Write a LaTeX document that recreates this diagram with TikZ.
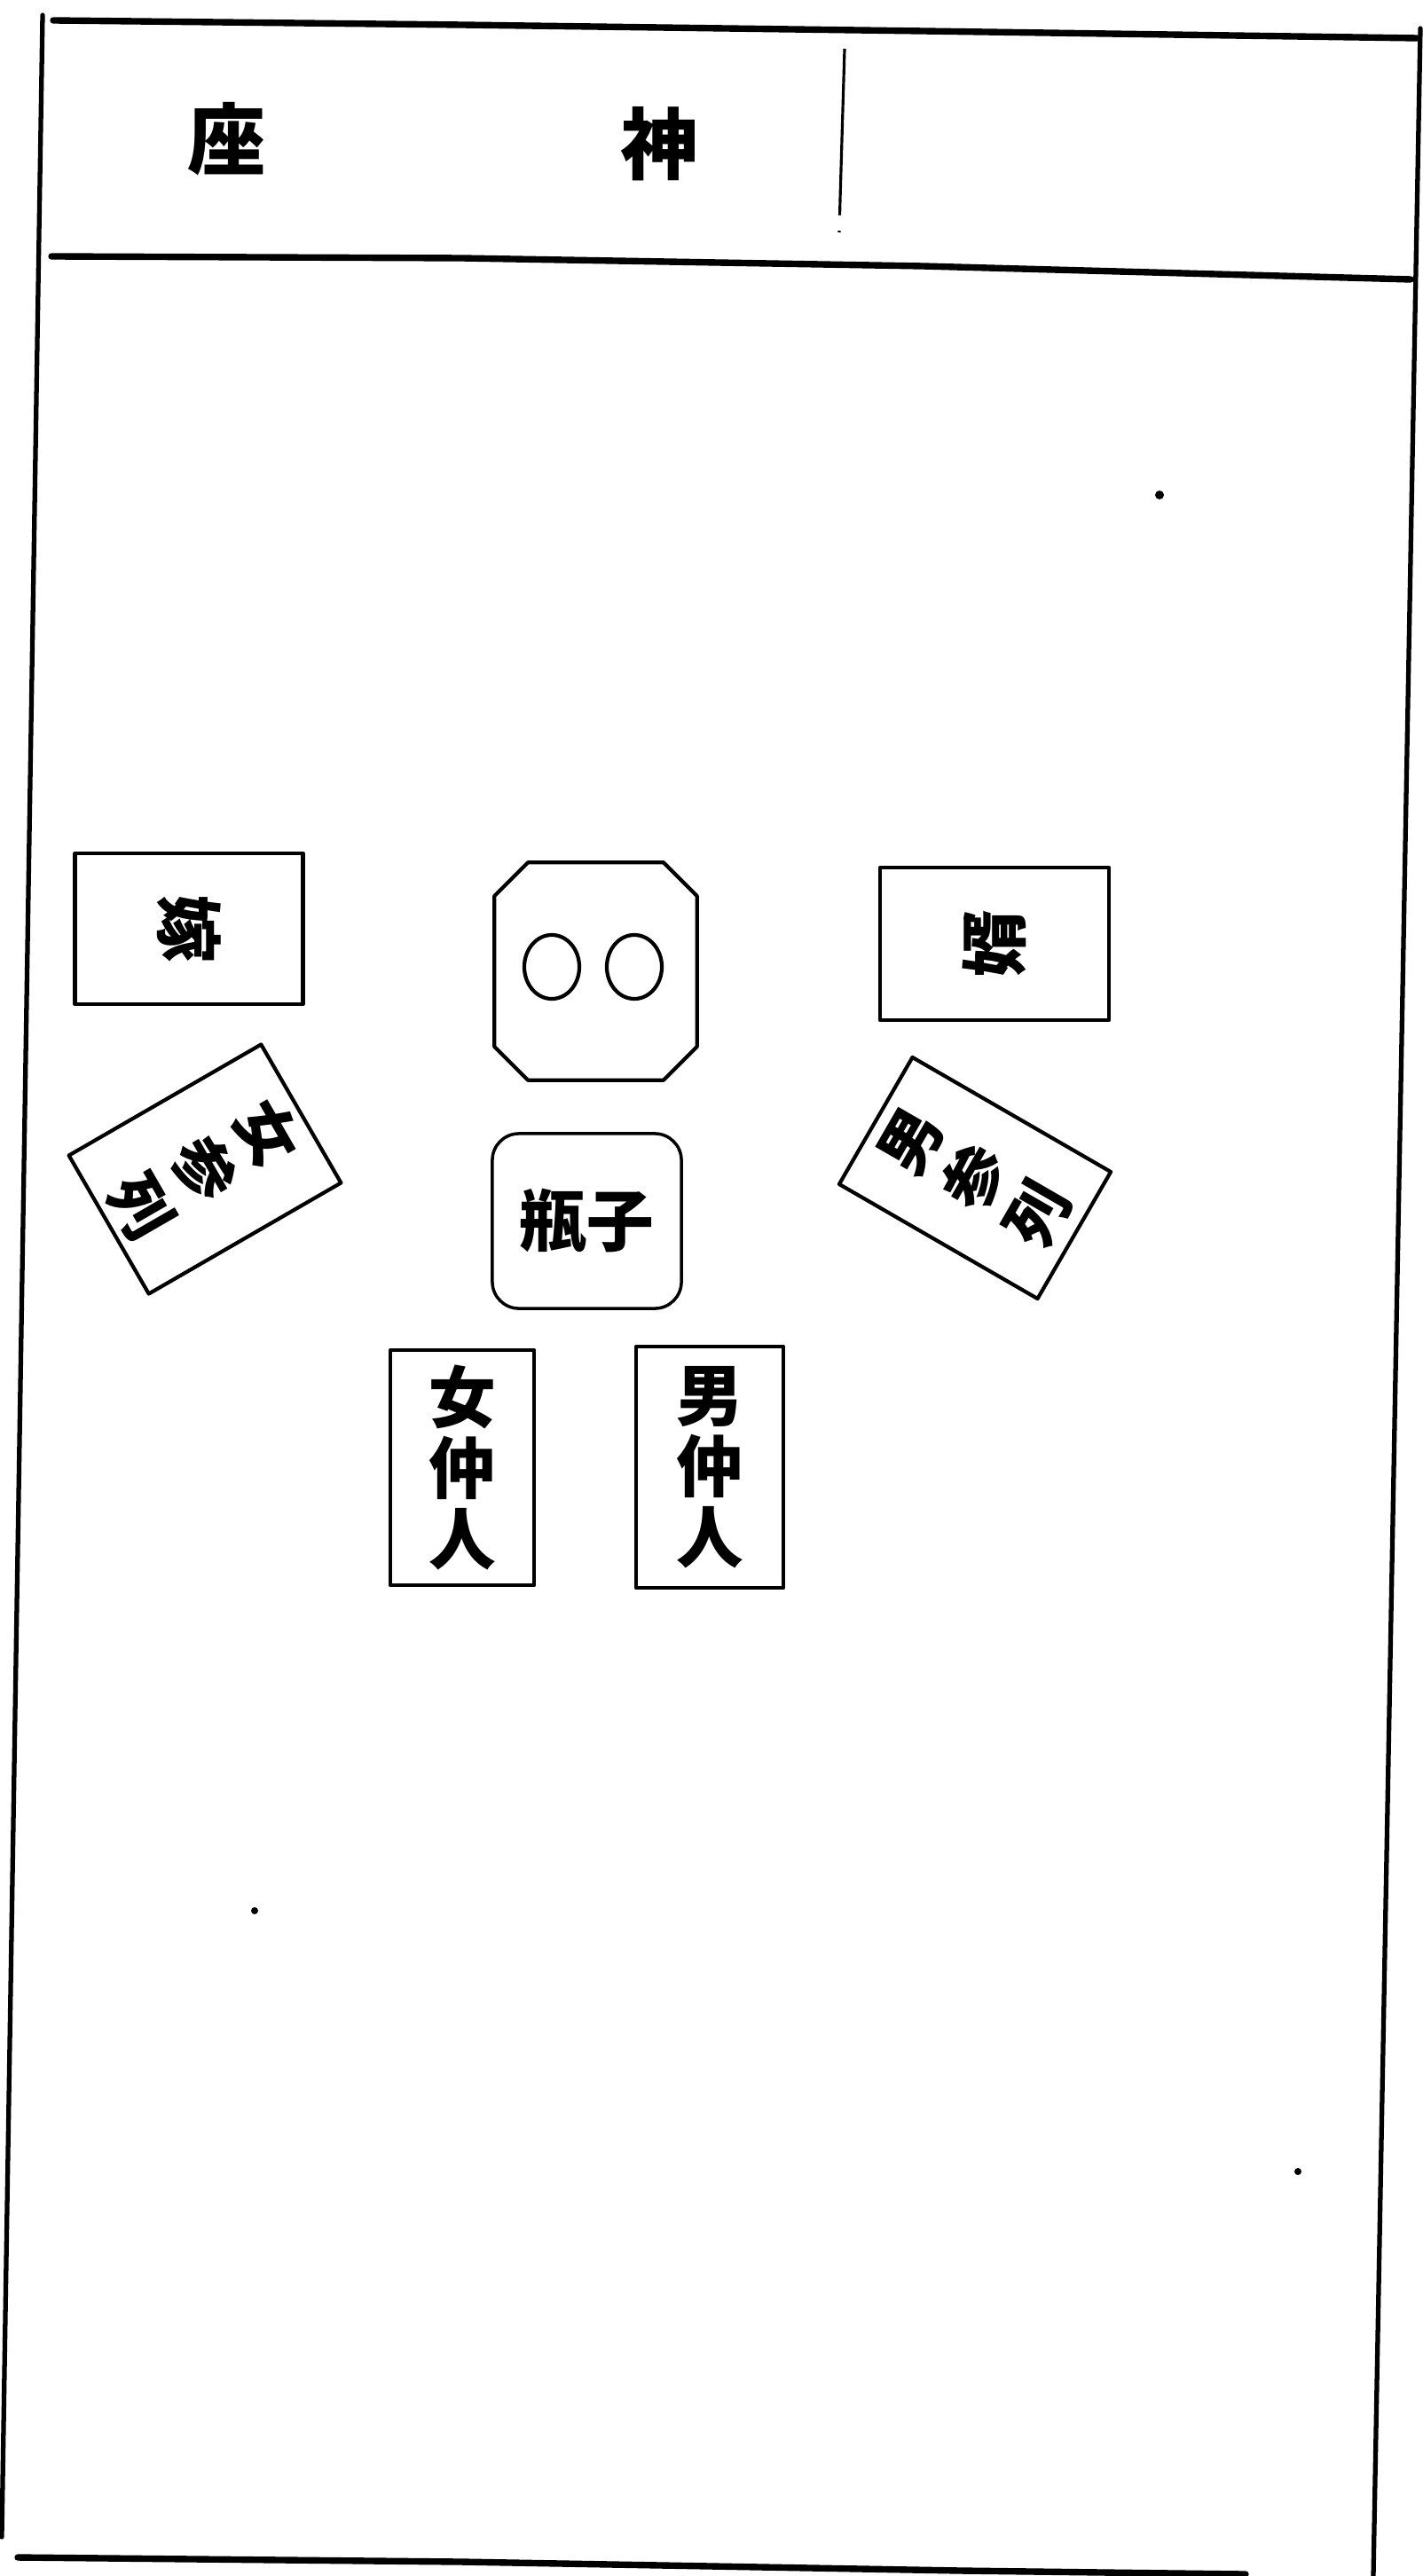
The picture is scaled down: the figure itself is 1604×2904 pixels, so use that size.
\documentclass[tikz,border=0pt]{standalone}
\usepackage{fontspec}
\newfontfamily\cjk{Noto Sans CJK JP}
\usetikzlibrary{shapes.geometric,calc}
\begin{document}
\begin{tikzpicture}[x=0.01cm,y=-0.01cm,
  frameline/.style={line width=2.1pt, line cap=round},
  sideline/.style={line width=1.5pt, line cap=round},
  boxline/.style={line width=1.2pt, line join=round},
  box/.style={draw, boxline, inner sep=0pt, align=center},
  lbl/.style={font=\cjk\bfseries\fontsize{21.5}{22.8}\selectfont},
  lbltall/.style={font=\cjk\bfseries\fontsize{20}{23.5}\selectfont},
  head/.style={font=\cjk\bfseries\fontsize{25}{27}\selectfont},
  ring/.style={draw, ellipse, line width=1.2pt, minimum width=0.62cm, minimum height=0.72cm, inner sep=0pt},
  speck/.style={fill=black}]
\fill[white] (0,0) rectangle (1604,2904);
\useasboundingbox (0,0) rectangle (1604,2904);

% page frame (slightly skewed as in the scan)
\draw[frameline] (60,23) -- (520,28) -- (1040,35) -- (1597,43);
\draw[frameline] (58,289) -- (520,291) -- (1040,300) -- (1590,315);
\draw[frameline] (20,2883) -- (520,2888) -- (1084,2898) -- (1404,2902);
\draw[sideline] (48,17) -- (2,2860);
\draw[sideline] (1601,32) -- (1548,2904);

% header divider
\draw[line width=0.9pt] (952,55) -- (947,225);
\draw[line width=0.9pt, dash pattern=on 5pt off 5pt] (947,225) -- (946,262);

% header text
\node[head] (za) at (255,157) {座};
\node[head] (shin) at (743,162) {神};

% bride and groom
\node[box, lbl, rotate=-90, minimum width=1.70cm, minimum height=2.57cm] (yome) at (213,1047) {嫁};
\node[box, lbl, rotate=90, minimum width=1.72cm, minimum height=2.58cm] (muko) at (1121,1064) {婿};

% attendants
\node[box, lbltall, rotate=-60, minimum width=1.80cm, minimum height=2.50cm] (onnasan) at (231,1318) {女\\参\\列};
\node[box, lbltall, rotate=60, minimum width=1.65cm, minimum height=2.58cm] (otokosan) at (1099,1328) {男\\参\\列};

% stand with two rings
\node[minimum width=2.27cm, minimum height=2.44cm, inner sep=0pt] (stand) at (671.5,1095) {};
\draw[boxline] ($(stand.north west)+(38,0)$) -- ($(stand.north east)+(-38,0)$)
  -- ($(stand.north east)+(0,38)$) -- ($(stand.south east)+(0,-38)$)
  -- ($(stand.south east)+(-38,0)$) -- ($(stand.south west)+(38,0)$)
  -- ($(stand.south west)+(0,-38)$) -- ($(stand.north west)+(0,38)$) -- cycle;
\node[ring] (ringL) at (622,1090) {};
\node[ring] (ringR) at (715,1090) {};

% sake bottles
\node[box, lbl, line width=1pt, rounded corners=0.3cm, minimum width=2.13cm, minimum height=1.97cm] (heishi) at (661.5,1376.5) {瓶子};

% go-betweens
\node[box, lbl, minimum width=1.62cm, minimum height=2.65cm] (nakoF) at (521,1654.5) {女\\仲\\人};
\node[box, lbl, minimum width=1.66cm, minimum height=2.72cm] (nakoM) at (800,1654) {男\\仲\\人};

% specks of the print
\fill[speck] (1307,558) circle[radius=0.05cm];
\fill[speck] (287,2154) circle[radius=0.04cm];
\fill[speck] (1463,2448) circle[radius=0.04cm];
\end{tikzpicture}
\end{document}
